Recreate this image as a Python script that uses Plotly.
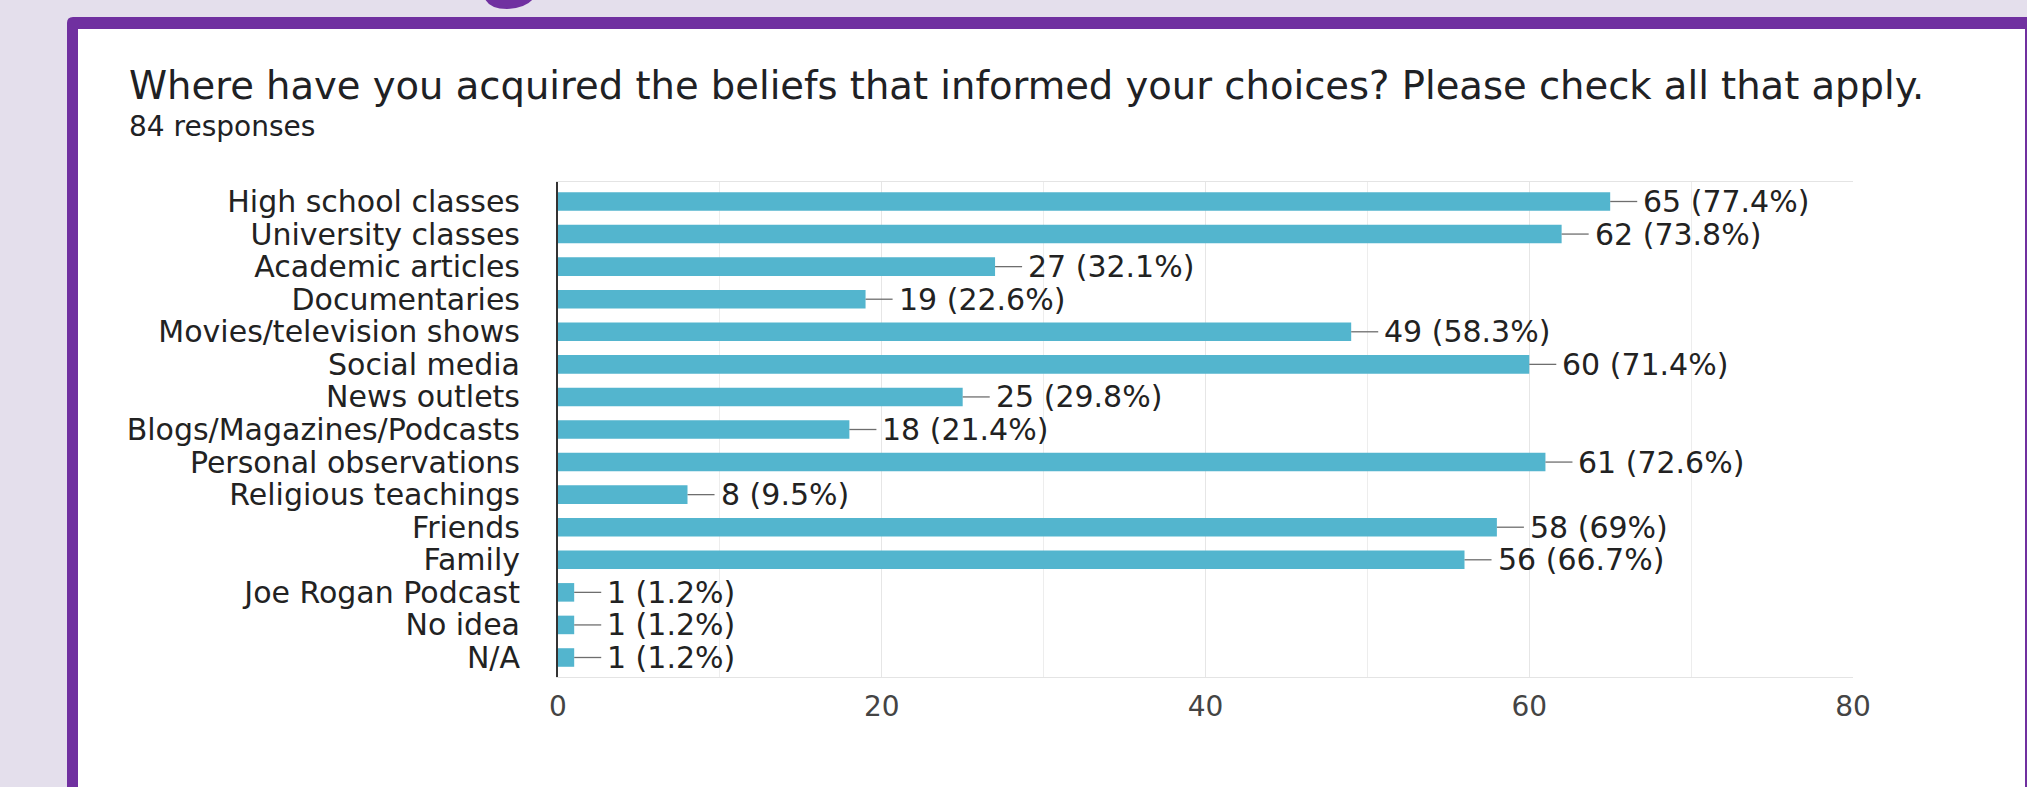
import plotly.graph_objects as go

# Survey responses: sources of beliefs (multi-select, 84 respondents)
categories = [
    "High school classes",
    "University classes",
    "Academic articles",
    "Documentaries",
    "Movies/television shows",
    "Social media",
    "News outlets",
    "Blogs/Magazines/Podcasts",
    "Personal observations",
    "Religious teachings",
    "Friends",
    "Family",
    "Joe Rogan Podcast",
    "No idea",
    "N/A",
]
counts = [65, 62, 27, 19, 49, 60, 25, 18, 61, 8, 58, 56, 1, 1, 1]
total_responses = 84
x_ticks = [0, 20, 40, 60, 80]

title_text = "Where have you acquired the beliefs that informed your choices? Please check all that apply."
subtitle_text = f"{total_responses} responses"

FONT = "DejaVu Sans"
BAR_COLOR = "#53B5CE"
PURPLE = "#7030A0"
LAVENDER = "#E4DFEC"

W, H = 2027, 787
L, R, T, B = 558, 1853, 182, 677     # plot area in pixels
LEADER = 1.67                          # leader line length in axis units


def px(x):
    return (x - L) / (R - L)


def py(y):
    return (B - y) / (B - T)


def pct_label(v):
    p = round(v / total_responses * 100, 1)
    return f"{v} ({p:g}%)"


fig = go.Figure()
fig.add_trace(go.Bar(
    x=counts,
    y=categories,
    orientation="h",
    marker=dict(color=BAR_COLOR, line=dict(width=0)),
    error_x=dict(type="data", symmetric=False,
                 array=[LEADER] * len(counts), arrayminus=[0] * len(counts),
                 width=0, thickness=1.3, color="#6e6e6e"),
    hoverinfo="skip",
))

annotations = []
for c, v in zip(categories, counts):
    annotations.append(dict(
        x=v, y=c, xref="x", yref="y", text=pct_label(v),
        showarrow=False, xanchor="left", yanchor="middle", xshift=31,
        font=dict(family=FONT, size=30, color="#222222"),
    ))

annotations.append(dict(
    x=px(127), y=py(85), xref="paper", yref="paper", text=title_text,
    showarrow=False, xanchor="left", yanchor="middle",
    font=dict(family=FONT, size=38.5, color="#202124"),
))
annotations.append(dict(
    x=px(127), y=py(127), xref="paper", yref="paper", text=subtitle_text,
    showarrow=False, xanchor="left", yanchor="middle",
    font=dict(family=FONT, size=28, color="#202124"),
))

# Card frame around the chart
frame_path = (
    f"M {px(67):.5f},{py(800):.5f} L {px(67):.5f},{py(23):.5f} "
    f"Q {px(67):.5f},{py(17):.5f} {px(73):.5f},{py(17):.5f} "
    f"L {px(2040):.5f},{py(17):.5f} L {px(2040):.5f},{py(800):.5f} Z"
)
logo_path = (
    f"M {px(485):.5f},{py(-1):.5f} "
    f"Q {px(490):.5f},{py(9):.5f} {px(507):.5f},{py(9):.5f} "
    f"Q {px(526):.5f},{py(8):.5f} {px(533):.5f},{py(-1):.5f} Z"
)

shapes = [
    dict(type="path", path=frame_path, xref="paper", yref="paper",
         fillcolor=PURPLE, line=dict(width=0), layer="below"),
    dict(type="rect", x0=px(78), x1=px(2025), y0=py(29), y1=py(800),
         xref="paper", yref="paper", fillcolor="white",
         line=dict(width=0), layer="below"),
    dict(type="path", path=logo_path, xref="paper", yref="paper",
         fillcolor=PURPLE, line=dict(width=0), layer="below"),
]

fig.update_layout(
    width=W, height=H,
    margin=dict(l=L, r=W - R, t=T, b=H - B, pad=0),
    paper_bgcolor=LAVENDER,
    plot_bgcolor="white",
    showlegend=False,
    bargap=0.43,
    annotations=annotations,
    shapes=shapes,
    font=dict(family=FONT),
    xaxis=dict(
        range=[0, 80], tickvals=x_ticks, ticktext=[str(t) for t in x_ticks],
        showgrid=True, gridcolor="#E6E6E6", gridwidth=1,
        minor=dict(dtick=10, tick0=0, showgrid=True, gridcolor="#EDEDED", gridwidth=1),
        showline=True, linecolor="#E4E4E4", linewidth=1, mirror=True,
        zeroline=False, ticks="", ticklabelstandoff=4,
        tickfont=dict(family=FONT, size=28, color="#444444"),
        fixedrange=True,
    ),
    yaxis=dict(
        autorange="reversed", showgrid=False, zeroline=False,
        tickmode="array", tickvals=categories, ticktext=categories,
        showline=True, linecolor="#333333", linewidth=2,
        ticks="", ticklabelstandoff=30,
        tickfont=dict(family=FONT, size=30, color="#222222"),
        fixedrange=True,
    ),
)

fig.write_html("out.html")
